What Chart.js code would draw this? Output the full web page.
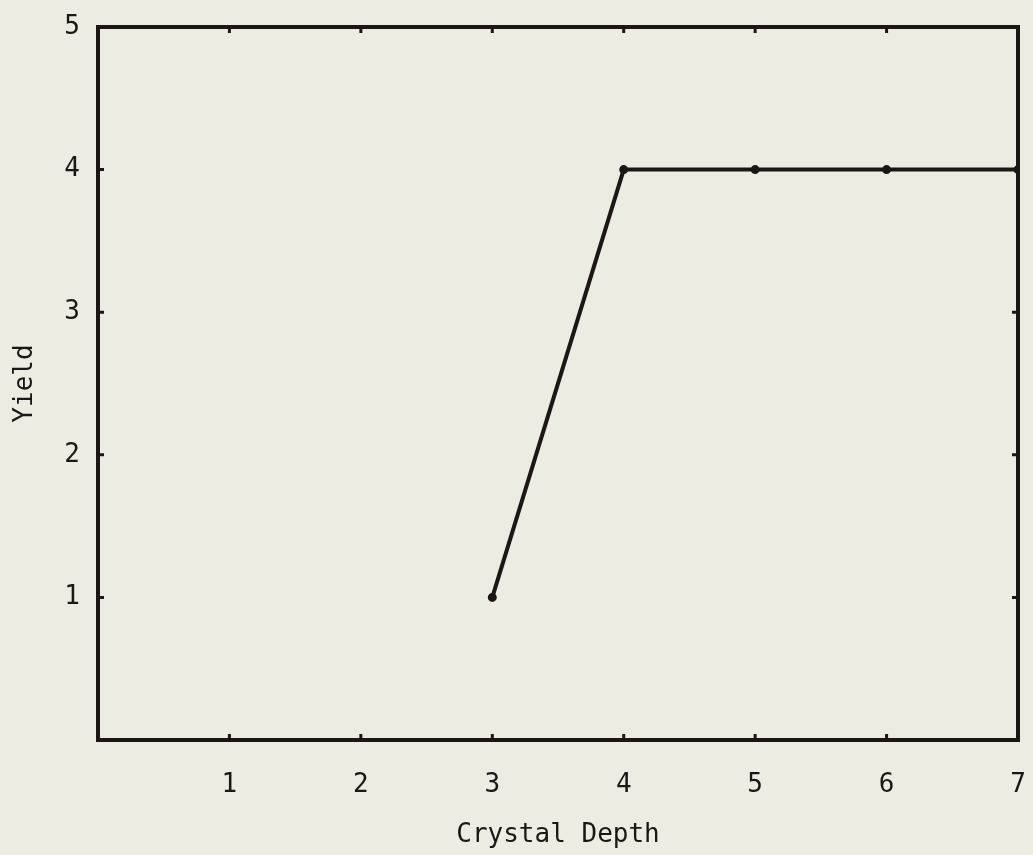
<!DOCTYPE html>
<html>
<head>
<meta charset="utf-8">
<script src="https://cdn.jsdelivr.net/npm/chart.js@4/dist/chart.umd.min.js"></script>
<style>
    html, body { margin: 0; padding: 0; background: #ecece2; }
    #wrap { width: 1033px; height: 855px; }
</style>
</head>
<body>
<div id="wrap"><canvas id="grafica"></canvas></div>
<script>
    // profundidad del cristal vs rendimiento
    const profundidad = [3, 4, 5, 6, 7];
    const rendimiento = [1, 4, 4, 4, 4];
    const ticksX = [1, 2, 3, 4, 5, 6, 7];
    const ticksY = [1, 2, 3, 4, 5];

    const tinta = '#1c1616';
    const fondo = '#ecece2';
    const fuente = "'DejaVu Sans Mono', monospace";

    // marco y marcas hacia adentro
    const marco = {
        id: 'marco',
        beforeDraw(chart) {
            const ctx = chart.ctx;
            ctx.save();
            ctx.fillStyle = fondo;
            ctx.fillRect(0, 0, chart.width, chart.height);
            ctx.restore();
        },
        afterDatasetsDraw(chart) {
            const { ctx, chartArea: a, scales } = chart;
            ctx.save();
            ctx.strokeStyle = tinta;
            ctx.lineWidth = 4;
            ctx.strokeRect(a.left, a.top, a.right - a.left, a.bottom - a.top);
            ctx.lineWidth = 3;
            ctx.beginPath();
            ticksX.forEach(v => {
                const x = scales.x.getPixelForValue(v);
                ctx.moveTo(x, a.top); ctx.lineTo(x, a.top + 6);
                ctx.moveTo(x, a.bottom); ctx.lineTo(x, a.bottom - 6);
            });
            ticksY.forEach(v => {
                const y = scales.y.getPixelForValue(v);
                ctx.moveTo(a.left, y); ctx.lineTo(a.left + 6, y);
                ctx.moveTo(a.right, y); ctx.lineTo(a.right - 6, y);
            });
            ctx.stroke();
            ctx.restore();
        }
    };

    new Chart(document.getElementById('grafica'), {
        type: 'line',
        data: {
            datasets: [{
                label: 'Yield',
                data: profundidad.map((x, i) => ({ x: x, y: rendimiento[i] })),
                borderColor: tinta,
                backgroundColor: tinta,
                borderWidth: 4,
                pointRadius: 2.5,
                pointHoverRadius: 2.5,
                tension: 0,
                fill: false
            }]
        },
        options: {
            responsive: true,
            maintainAspectRatio: false,
            animation: false,
            layout: { padding: { top: 27, right: 15, left: 0, bottom: 0 } },
            plugins: {
                legend: { display: false },
                tooltip: { enabled: false }
            },
            scales: {
                x: {
                    type: 'linear',
                    min: 0,
                    max: 7,
                    border: { display: false },
                    grid: { display: false, drawTicks: false },
                    afterBuildTicks: s => { s.ticks = ticksX.map(v => ({ value: v })); },
                    afterFit: s => {
                        s.height = 115;
                        s.paddingLeft = 0;
                        s.paddingRight = 0;
                    },
                    ticks: {
                        color: tinta,
                        padding: 30,
                        font: { family: fuente, size: 26 }
                    },
                    title: {
                        display: true,
                        text: 'Crystal Depth',
                        color: tinta,
                        font: { family: fuente, size: 26 },
                        padding: { top: 0, bottom: 4 }
                    }
                },
                y: {
                    min: 0,
                    max: 5,
                    border: { display: false },
                    grid: { display: false, drawTicks: false },
                    afterBuildTicks: s => { s.ticks = ticksY.map(v => ({ value: v })); },
                    afterFit: s => {
                        s.width = 98;
                        s.paddingTop = 0;
                        s.paddingBottom = 0;
                    },
                    ticks: {
                        color: tinta,
                        padding: 18,
                        font: { family: fuente, size: 26 }
                    },
                    title: {
                        display: true,
                        text: 'Yield',
                        color: tinta,
                        font: { family: fuente, size: 26 },
                        padding: { top: 10, bottom: 0 }
                    }
                }
            }
        },
        plugins: [marco]
    });
</script>
</body>
</html>
